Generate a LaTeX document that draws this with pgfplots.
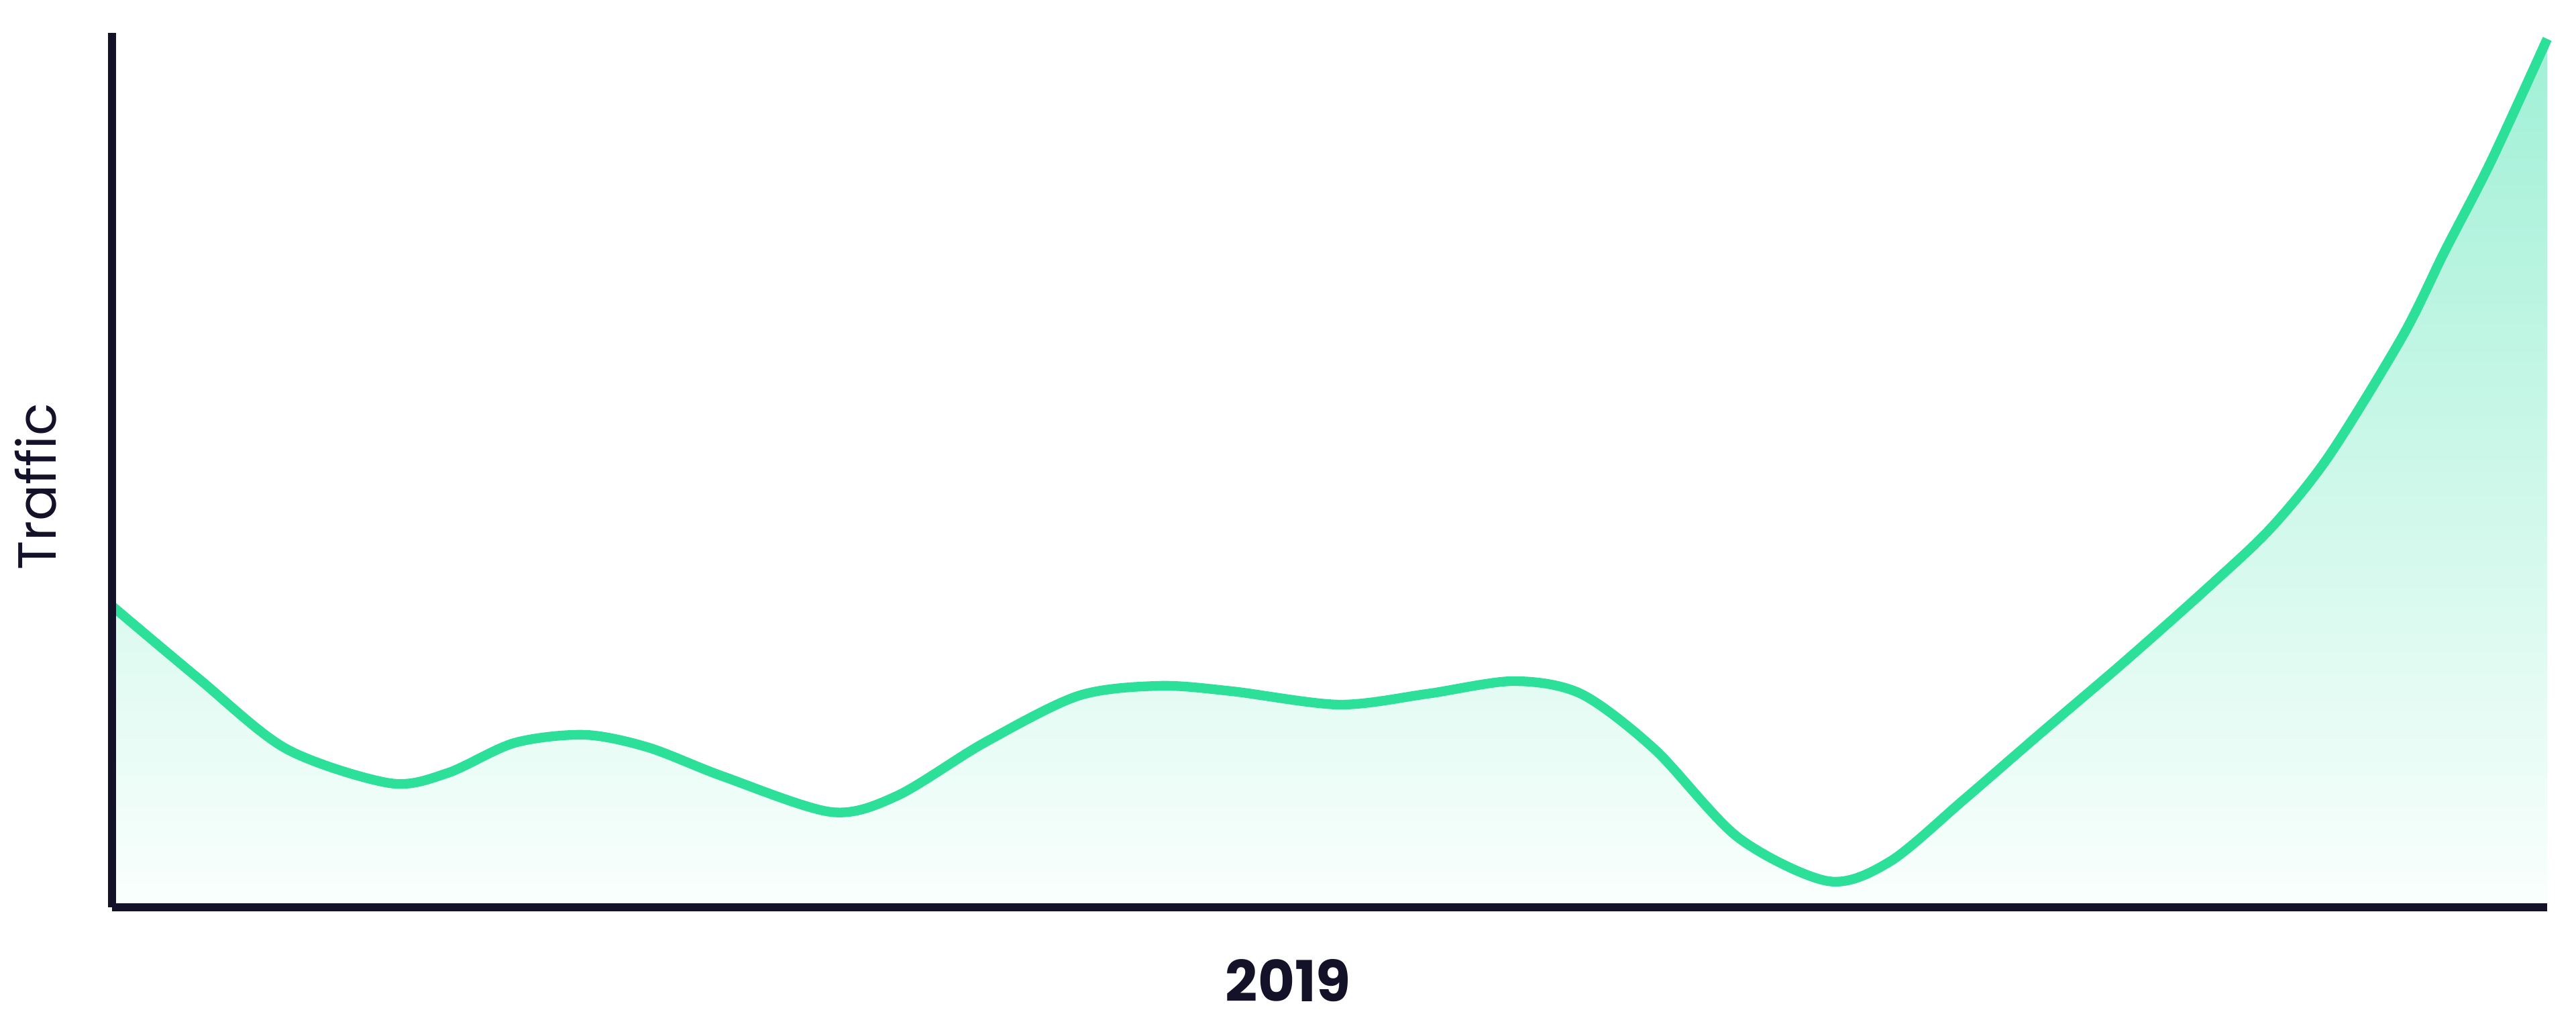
\documentclass[border=0pt]{standalone}
\usepackage{pgfplots}
\pgfplotsset{compat=1.18}
\usepackage{pgfplotstable}
\usepackage{fontspec}
\setmainfont{Poppins}

\definecolor{ink}{RGB}{20,18,40}
\definecolor{mint}{RGB}{44,224,154}
\definecolor{minttop}{RGB}{160,240,214}
\definecolor{mintbot}{RGB}{250,255,253}

% traffic over the year
\pgfplotstableread{
x     y
0     449
130   340
260   236
414   185
500   200
600   245
705   257
800   238
911   195
1072  142
1170  166
1300  245
1440  315
1561  330
1669  322
1829  302
1960  318
2089  337
2190  318
2300  235
2424  104
2558  39
2650  68
2760  160
2871  256
3000  366
3126  478
3219  566
3305  673
3415  852
3477  977
3546  1111
3630  1294
}\traffic

\begin{document}
\begin{tikzpicture}
  \begin{axis}[
      scale only axis,
      width=15.125cm,
      height=5.429cm,
      xmin=0, xmax=3630,
      ymin=0, ymax=1303,
      axis lines=left,
      axis line style={-, ink, line width=1.4pt},
      axis on top,
      xtick=\empty, ytick=\empty,
      clip=false,
    ]

    % gradient area under the curve
    \addplot[draw=none, top color=minttop, bottom color=mintbot, smooth]
      table[x=x, y=y] {\traffic} \closedcycle;

    % the curve itself
    \addplot[mint, line width=1.7pt, smooth]
      table[x=x, y=y] {\traffic};

    \node[rotate=90, anchor=south, inner sep=0pt, yshift=9.6pt, text=ink,
          font=\fontsize{9.5}{11}\selectfont]
      at (rel axis cs:0,0.481) {Traffic};
    \node[anchor=north, inner sep=0pt, yshift=-9pt, text=ink,
          font=\fontsize{10}{12}\selectfont\bfseries]
      at (rel axis cs:0.483,0) {2019};
  \end{axis}
  \pgfresetboundingbox
  \path ([xshift=-0.6958cm, yshift=-0.6625cm]current axis.south west)
    rectangle ([xshift=0.179cm, yshift=0.204cm]current axis.north east);
\end{tikzpicture}
\end{document}
